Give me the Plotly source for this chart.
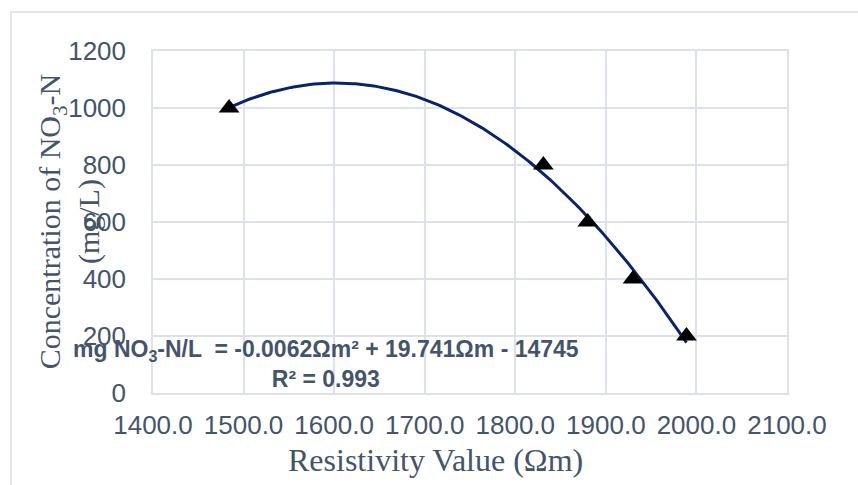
import numpy as np
import plotly.graph_objects as go

# Data
resistivity = [1484, 1831, 1880, 1930, 1989]
concentration = [1000, 800, 600, 400, 200]

x_ticks = [1400, 1500, 1600, 1700, 1800, 1900, 2000, 2100]
x_tick_labels = ["1400.0", "1500.0", "1600.0", "1700.0", "1800.0", "1900.0", "2000.0", "2100.0"]
y_ticks = [0, 200, 400, 600, 800, 1000, 1200]

equation_text = "<b>mg NO<sub>3</sub>-N/L  = -0.0062Ωm² + 19.741Ωm - 14745<br>R² = 0.993</b>"

# Polynomial (order 2) trendline fitted to the points
coef = np.polyfit(resistivity, concentration, 2)
tx = np.linspace(min(resistivity), max(resistivity), 200)
ty = np.polyval(coef, tx)

TEXT = "#44546A"
GRID = "#DDE2EA"
SERIF = "Liberation Serif, Times New Roman, serif"
SANS = "Liberation Sans, Arial, sans-serif"

fig = go.Figure()
fig.add_trace(go.Scatter(x=tx, y=ty, mode="lines",
                         line=dict(color="#0A2469", width=3),
                         hoverinfo="skip", showlegend=False))
fig.add_trace(go.Scatter(x=resistivity, y=concentration, mode="markers",
                         marker=dict(symbol="triangle-up", size=18, color="black"),
                         showlegend=False))

fig.update_layout(
    width=858, height=485,
    margin=dict(l=153, r=71, t=51, b=92),
    paper_bgcolor="white", plot_bgcolor="white",
    showlegend=False,
    xaxis=dict(range=[1400, 2100], tickvals=x_ticks, ticktext=x_tick_labels,
               showgrid=True, gridcolor=GRID, gridwidth=1.5,
               showline=True, linecolor=GRID, linewidth=1.5, mirror=True,
               zeroline=False, ticks="", ticklabelstandoff=8,
               tickfont=dict(family=SANS, size=26, color=TEXT)),
    yaxis=dict(range=[0, 1200], tickvals=y_ticks,
               showgrid=True, gridcolor=GRID, gridwidth=1.5,
               showline=True, linecolor=GRID, linewidth=1.5, mirror=True,
               zeroline=False, ticks="", ticklabelstandoff=20,
               tickfont=dict(family=SANS, size=26, color=TEXT)),
    annotations=[
        dict(text="Concentration of NO<sub>3</sub>-N<br>(mg/L)", textangle=-90,
             xref="paper", yref="paper", x=-0.132, y=0.5,
             xanchor="center", yanchor="middle", showarrow=False, align="center",
             font=dict(family=SERIF, size=30, color=TEXT)),
        dict(text="Resistivity Value (Ωm)",
             xref="paper", yref="paper", x=0.446, y=-0.196,
             xanchor="center", yanchor="middle", showarrow=False,
             font=dict(family=SERIF, size=32, color=TEXT)),
        dict(text=equation_text, xref="x", yref="y", x=1590.5, y=103.5,
             xanchor="center", yanchor="middle", showarrow=False, align="center",
             font=dict(family=SANS, size=23, color=TEXT)),
    ],
    shapes=[dict(type="rect", xref="paper", yref="paper",
                 x0=-0.224, x1=1.2, y0=-0.4, y1=1.114,
                 line=dict(color="#D9DDE4", width=1.5), fillcolor="rgba(0,0,0,0)",
                 layer="below")],
)

fig.write_html("out.html", config={"displayModeBar": False},
               post_script="document.body.style.margin='0';document.body.style.overflow='hidden';")
